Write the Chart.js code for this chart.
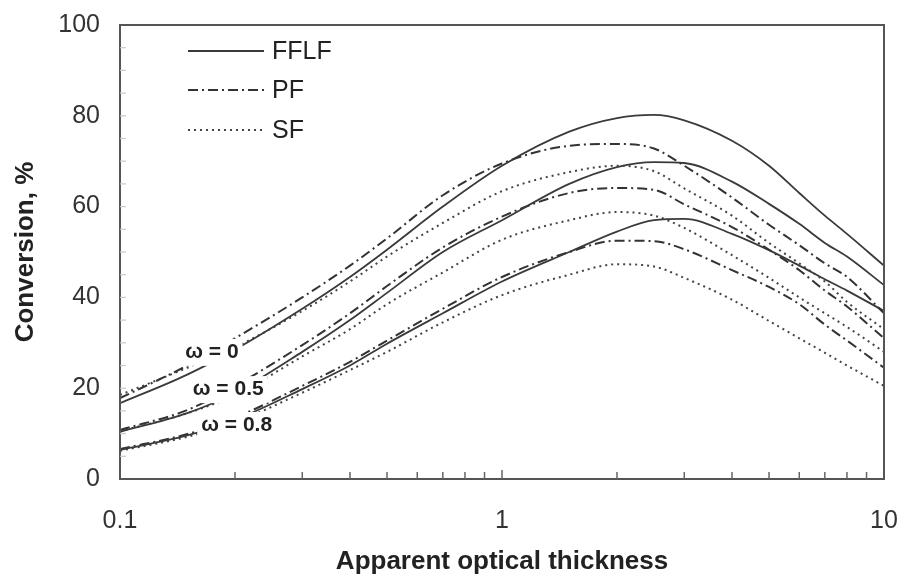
<!DOCTYPE html>
<html><head><meta charset="utf-8">
<script src="https://cdn.jsdelivr.net/npm/chart.js@4.4.1/dist/chart.umd.min.js"></script>
<style>html,body{margin:0;padding:0;background:#fff;}#wrap{width:903px;height:575px;}</style>
</head><body><div id="wrap"><canvas id="c" width="903" height="575"></canvas></div>
<script>
// ---- data ----
const thickness = [0.1, 0.15, 0.2, 0.3, 0.4, 0.5, 0.7, 1, 1.5, 2, 2.5, 3, 4, 5, 6, 7, 8, 10];
const xTickLabels = ['0.1', '1', '10'];
const modelNames = ['FFLF', 'PF', 'SF'];
const omegaTexts = ['ω = 0', 'ω = 0.5', 'ω = 0.8'];

const fflfW0  = [16.7, 23.0, 28.5, 37.5, 44.5, 50.5, 60.0, 69.0, 76.5, 79.5, 80.2, 79.0, 74.5, 69.0, 63.0, 58.0, 54.0, 47.0];
const pfW0    = [17.8, 25.0, 31.0, 40.0, 47.0, 53.0, 62.5, 69.5, 73.4, 73.8, 72.8, 69.0, 62.0, 56.0, 51.5, 47.5, 44.5, 36.5];
const sfW0    = [18.5, 24.5, 29.0, 37.0, 43.5, 49.0, 56.4, 63.4, 67.6, 69.0, 67.8, 64.0, 58.0, 52.0, 47.5, 43.5, 39.0, 33.0];

const fflfW05 = [10.4, 14.5, 19.0, 28.0, 35.0, 41.0, 50.0, 57.0, 65.0, 68.7, 69.8, 69.6, 65.5, 60.6, 56.2, 52.0, 49.0, 42.7];
const pfW05   = [10.8, 15.2, 20.5, 29.5, 36.5, 42.5, 51.0, 57.8, 63.0, 64.1, 63.7, 60.5, 55.5, 50.5, 46.0, 41.5, 38.0, 31.0];
const sfW05   = [10.5, 14.5, 18.5, 27.0, 33.0, 38.5, 45.5, 52.7, 57.0, 58.8, 58.0, 55.3, 49.3, 44.3, 40.0, 36.5, 33.5, 28.0];

const fflfW08 = [6.4, 9.6, 13.0, 19.8, 25.0, 29.8, 36.5, 43.5, 50.0, 54.5, 57.0, 57.3, 54.0, 50.4, 47.0, 44.0, 41.5, 37.0];
const pfW08   = [6.6, 9.9, 13.5, 20.5, 25.8, 30.5, 37.5, 44.5, 50.0, 52.5, 52.4, 50.6, 46.0, 42.3, 38.5, 34.0, 30.5, 24.5];
const sfW08   = [6.2, 9.3, 12.5, 19.0, 24.0, 28.0, 34.5, 40.5, 45.0, 47.3, 46.8, 44.3, 39.5, 34.8, 31.0, 27.8, 25.0, 20.5];

// label anchor points in data units (x: thickness, y: conversion)
const omegaAnchorX = [0.174, 0.192, 0.202];
const omegaAnchorY = [28, 19.8, 11.9];

// ---- styles ----
const styleFor = {
  FFLF: {borderColor: '#3a3a3a', borderWidth: 1.8, borderDash: []},
  PF:   {borderColor: '#333333', borderWidth: 2.0, borderDash: [10, 4, 2, 4]},
  SF:   {borderColor: '#444444', borderWidth: 2.0, borderDash: [2, 4]}
};
const groups = [
  [fflfW0, pfW0, sfW0],
  [fflfW05, pfW05, sfW05],
  [fflfW08, pfW08, sfW08]
];
const datasets = [];
groups.forEach((grp, gi) => {
  grp.forEach((arr, mi) => {
    const name = modelNames[mi];
    datasets.push(Object.assign({
      label: name + ' ' + omegaTexts[gi],
      data: thickness.map((x, i) => ({x: x, y: arr[i]})),
      pointRadius: 0,
      fill: false,
      cubicInterpolationMode: 'monotone'
    }, styleFor[name]));
  });
});

const FONT = "'Liberation Sans', Arial, sans-serif";

const decor = {
  id: 'decor',
  afterDatasetsDraw(chart) {
    const {ctx, chartArea: a, scales: {x, y}} = chart;
    ctx.save();
    ctx.font = 'bold 21px ' + FONT;
    ctx.textAlign = 'center';
    ctx.textBaseline = 'middle';
    omegaTexts.forEach((t, i) => {
      const px = x.getPixelForValue(omegaAnchorX[i]);
      const py = y.getPixelForValue(omegaAnchorY[i]);
      const w = ctx.measureText(t).width;
      ctx.fillStyle = '#fff';
      ctx.fillRect(px - w / 2 - 4, py - 13, w + 8, 27);
      ctx.fillStyle = '#222';
      ctx.fillText(t, px, py);
    });
    ctx.strokeStyle = '#555';
    ctx.lineWidth = 2;
    ctx.strokeRect(a.left, a.top, a.right - a.left, a.bottom - a.top);
    ctx.lineWidth = 1.5;
    ctx.strokeStyle = '#666';
    [0.1, 1].forEach(dec => {
      for (let k = 1; k <= 9; k++) {
        if (dec === 0.1 && k === 1) continue;
        const px = x.getPixelForValue(k * dec);
        const len = (k === 1) ? 9 : 7;
        ctx.beginPath();
        ctx.moveTo(px, a.bottom);
        ctx.lineTo(px, a.bottom - len);
        ctx.stroke();
      }
    });
    ctx.strokeStyle = '#c8c8c8';
    ctx.lineWidth = 1.2;
    for (let v = 5; v < 100; v += 5) {
      const py = y.getPixelForValue(v);
      ctx.beginPath();
      ctx.moveTo(a.left, py);
      ctx.lineTo(a.left + 6, py);
      ctx.stroke();
    }
    const legendY = [51, 90, 130];
    ctx.font = '25px ' + FONT;
    ctx.textAlign = 'left';
    ctx.textBaseline = 'middle';
    modelNames.forEach((n, i) => {
      const st = styleFor[n];
      ctx.strokeStyle = st.borderColor;
      ctx.lineWidth = st.borderWidth;
      ctx.setLineDash(st.borderDash);
      ctx.beginPath();
      ctx.moveTo(188, legendY[i]);
      ctx.lineTo(264, legendY[i]);
      ctx.stroke();
      ctx.setLineDash([]);
      ctx.fillStyle = '#222';
      ctx.fillText(n, 272, legendY[i] + 1);
    });
    ctx.restore();
  }
};

function zeroPad(s) { s.paddingLeft = 0; s.paddingRight = 0; s.paddingTop = 0; s.paddingBottom = 0; }

new Chart(document.getElementById('c'), {
  type: 'line',
  data: {datasets: datasets},
  plugins: [decor],
  options: {
    responsive: false,
    devicePixelRatio: 1,
    animation: false,
    layout: {padding: {top: 25, right: 19, left: 0, bottom: 0}},
    plugins: {legend: {display: false}, tooltip: {enabled: false}},
    scales: {
      x: {
        type: 'logarithmic',
        min: 0.1, max: 10,
        grid: {display: false, drawTicks: false},
        border: {display: false},
        ticks: {
          autoSkip: false, maxRotation: 0, padding: 27,
          color: '#333', font: {size: 25, family: FONT},
          callback: (v) => {
            const l = Math.log10(v);
            if (Math.abs(l - Math.round(l)) < 1e-6) return xTickLabels[Math.round(l) + 1];
            return '';
          }
        },
        title: {display: true, text: 'Apparent optical thickness', color: '#222',
                font: {size: 26, weight: 'bold', family: FONT, lineHeight: 1}, padding: 0},
        afterFit: (s) => { s.height = 96; zeroPad(s); }
      },
      y: {
        min: 0, max: 100,
        grid: {display: false, drawTicks: false},
        border: {display: false},
        ticks: {stepSize: 20, padding: 20, color: '#333', font: {size: 25, family: FONT}},
        title: {display: true, text: 'Conversion, %', color: '#222',
                font: {size: 26, weight: 'bold', family: FONT, lineHeight: 1.2}, padding: {top: 10, bottom: 0}},
        afterFit: (s) => { s.width = 120; zeroPad(s); }
      }
    }
  }
});
</script></body></html>
